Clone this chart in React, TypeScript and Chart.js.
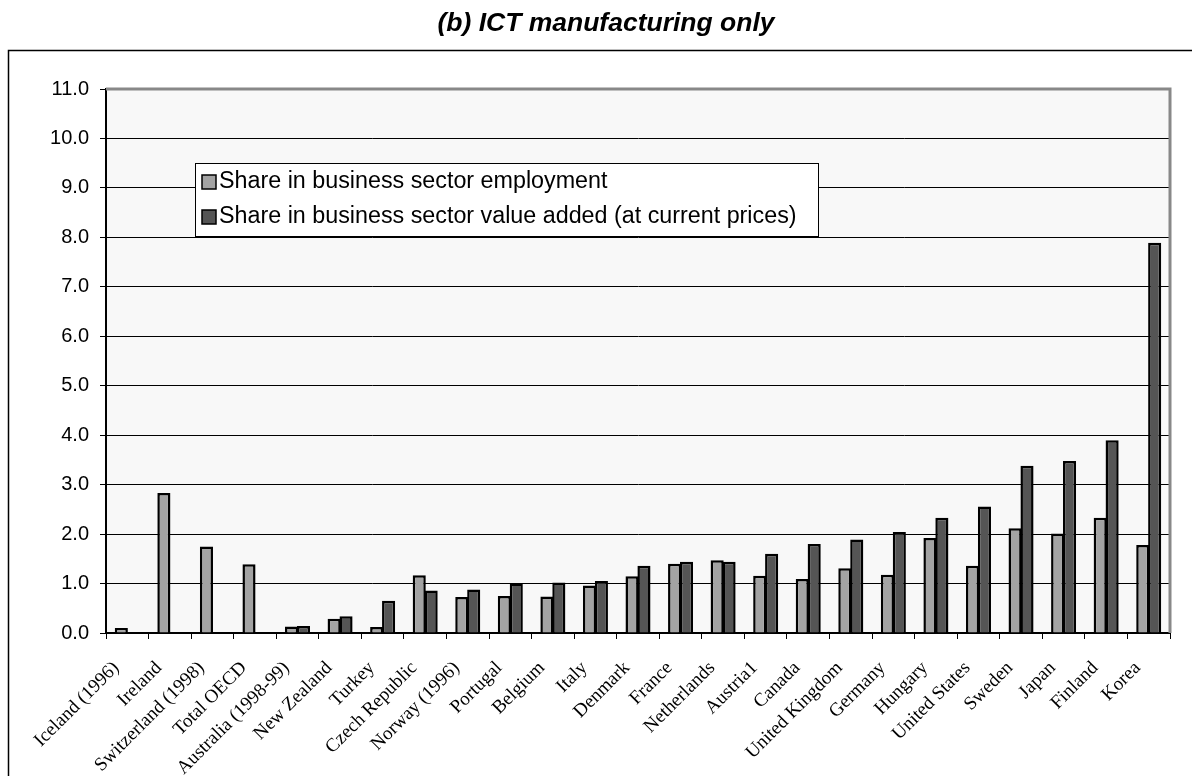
import React, { useEffect, useRef } from "react";
import { Chart, registerables } from "chart.js";

Chart.register(...registerables);

const titleText = "(b) ICT manufacturing only";

const categories = [
  "Iceland (1996)",
  "Ireland",
  "Switzerland (1998)",
  "Total OECD",
  "Australia (1998-99)",
  "New Zealand",
  "Turkey",
  "Czech Republic",
  "Norway (1996)",
  "Portugal",
  "Belgium",
  "Italy",
  "Denmark",
  "France",
  "Netherlands",
  "Austria1",
  "Canada",
  "United Kingdom",
  "Germany",
  "Hungary",
  "United States",
  "Sweden",
  "Japan",
  "Finland",
  "Korea",
];

const employmentLabel = "Share in business sector employment";
const valueAddedLabel = "Share in business sector value added (at current prices)";

const employment = [
  0.1, 2.83, 1.75, 1.39, 0.13, 0.29, 0.12, 1.17, 0.73, 0.75, 0.74, 0.96, 1.15,
  1.4, 1.47, 1.16, 1.09, 1.31, 1.18, 1.92, 1.36, 2.12, 2.01, 2.33, 1.78,
];

const valueAdded = [
  null, null, null, null, 0.14, 0.34, 0.65, 0.86, 0.88, 1.0, 1.02, 1.05, 1.36,
  1.44, 1.44, 1.6, 1.8, 1.89, 2.04, 2.33, 2.56, 3.38, 3.48, 3.9, 7.89,
];

const yMin = 0;
const yMax = 11;
const yStep = 1;

const employmentColor = "#a3a3a3";
const valueAddedColor = "#555555";

const decorPlugin = {
  id: "decor",
  beforeDraw(chart: any) {
    const { ctx, chartArea } = chart;
    ctx.save();
    ctx.fillStyle = "#ffffff";
    ctx.fillRect(0, 0, chart.width, chart.height);
    // outer frame
    ctx.strokeStyle = "#000";
    ctx.lineWidth = 1.5;
    ctx.strokeRect(8.5, 50.5, chart.width + 20, chart.height + 20);
    // plot background
    ctx.fillStyle = "#f8f8f8";
    ctx.fillRect(chartArea.left, chartArea.top, chartArea.right - chartArea.left, chartArea.bottom - chartArea.top);
    // title
    ctx.fillStyle = "#000";
    ctx.font = "italic bold 26.5px Arial, 'Liberation Sans', sans-serif";
    ctx.textAlign = "center";
    ctx.textBaseline = "middle";
    ctx.fillText(titleText, 606, 24);
    ctx.restore();
  },
  afterDraw(chart: any) {
    const { ctx, chartArea } = chart;
    ctx.save();
    // gray top & right border
    ctx.strokeStyle = "#888888";
    ctx.lineWidth = 3;
    ctx.beginPath();
    ctx.moveTo(chartArea.left, chartArea.top);
    ctx.lineTo(chartArea.right, chartArea.top);
    ctx.lineTo(chartArea.right, chartArea.bottom);
    ctx.stroke();

    // legend box
    const lx = 195, ly = 163, lw = 623, lh = 73;
    ctx.fillStyle = "#ffffff";
    ctx.fillRect(lx, ly, lw, lh);
    ctx.strokeStyle = "#000";
    ctx.lineWidth = 1;
    ctx.strokeRect(lx + 0.5, ly + 0.5, lw, lh);
    const items = chart.data.datasets;
    ctx.font = "23.3px Arial, 'Liberation Sans', sans-serif";
    ctx.textBaseline = "middle";
    ctx.textAlign = "left";
    items.forEach((ds: any, i: number) => {
      const cy = ly + 19 + i * 35;
      ctx.fillStyle = ds.backgroundColor;
      ctx.fillRect(lx + 7, cy - 7, 14, 14);
      ctx.strokeStyle = "#000";
      ctx.lineWidth = 1.5;
      ctx.strokeRect(lx + 7, cy - 7, 14, 14);
      ctx.fillStyle = "#000";
      ctx.fillText(ds.label, lx + 24, cy);
    });
    ctx.restore();
  },
};

export default function App() {
  const canvasRef = useRef<HTMLCanvasElement | null>(null);

  useEffect(() => {
    if (!canvasRef.current) return;
    const chart = new Chart(canvasRef.current, {
      type: "bar",
      data: {
        labels: categories,
        datasets: [
          {
            label: employmentLabel,
            data: employment,
            backgroundColor: employmentColor,
            borderColor: "#000",
            borderWidth: 2.5,
            categoryPercentage: 0.56,
            barPercentage: 1.1,
          },
          {
            label: valueAddedLabel,
            data: valueAdded as any,
            backgroundColor: valueAddedColor,
            borderColor: "#000",
            borderWidth: 2.5,
            categoryPercentage: 0.56,
            barPercentage: 1.1,
          },
        ],
      },
      options: {
        responsive: false,
        animation: false,
        layout: { padding: { top: 89, right: 22, left: 0, bottom: 0 } },
        plugins: {
          legend: { display: false },
          title: { display: false },
          tooltip: { enabled: false },
        },
        scales: {
          x: {
            afterFit: (s: any) => {
              s.height = 143;
            },
            grid: {
              display: true,
              drawOnChartArea: false,
              offset: true,
              tickLength: 6,
              tickColor: "#000",
              color: "#000",
            },
            border: { color: "#000", width: 2 },
            ticks: {
              autoSkip: false,
              minRotation: 45,
              maxRotation: 45,
              padding: 18,
              labelOffset: -11,
              color: "#000",
              font: { family: "'Times New Roman', 'Liberation Serif', serif", size: 19 },
            },
          },
          y: {
            min: yMin,
            max: yMax,
            afterFit: (s: any) => {
              s.width = 106;
            },
            grid: {
              color: "#000",
              lineWidth: 1,
              tickLength: 6,
              tickColor: "#000",
            },
            border: { color: "#000", width: 2 },
            ticks: {
              stepSize: yStep,
              padding: 11,
              color: "#000",
              font: { family: "Arial, 'Liberation Sans', sans-serif", size: 20 },
              callback: (v: any) => Number(v).toFixed(1),
            },
          },
        },
      },
      plugins: [decorPlugin],
    });
    return () => chart.destroy();
  }, []);

  return (
    <div style={{ position: "fixed", left: 0, top: 0, width: 1192, height: 776, background: "#fff" }}>
      <canvas ref={canvasRef} width={1192} height={776} />
    </div>
  );
}
